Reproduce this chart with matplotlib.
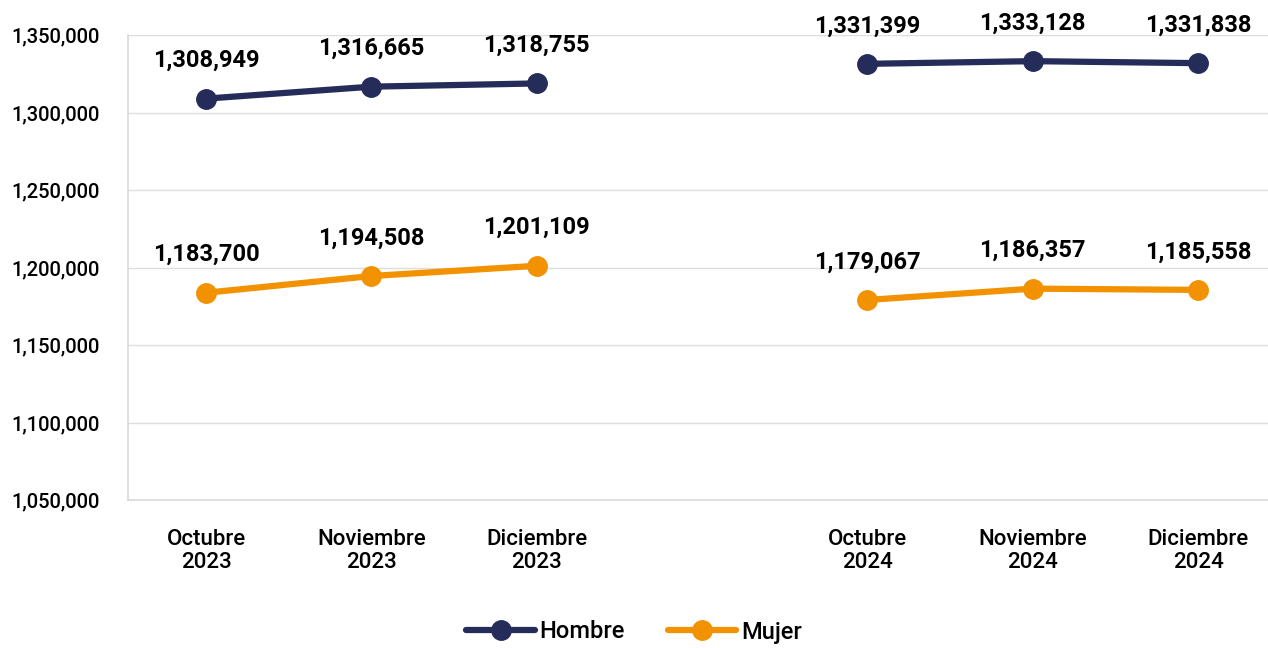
import matplotlib.pyplot as plt
from matplotlib.ticker import FuncFormatter

plt.rcParams['font.family'] = ['Roboto', 'DejaVu Sans']

categorias = ['Octubre\n2023', 'Noviembre\n2023', 'Diciembre\n2023', '',
              'Octubre\n2024', 'Noviembre\n2024', 'Diciembre\n2024']
hombre_2023 = [1308949, 1316665, 1318755]
hombre_2024 = [1331399, 1333128, 1331838]
mujer_2023 = [1183700, 1194508, 1201109]
mujer_2024 = [1179067, 1186357, 1185558]

navy = '#252c59'
orange = '#f39200'

fig = plt.figure(figsize=(12.68, 6.48), dpi=100)
ax = fig.add_axes([128/1268, 1 - 500/648, 1 - 128/1268, 465/648])

x23 = [0, 1, 2]
x24 = [4, 5, 6]

def serie(xs, ys, color, label=None):
    ax.plot(xs, ys, color=color, lw=4.5, marker='o', ms=14, label=label,
            solid_capstyle='round', zorder=3)
    for x, y in zip(xs, ys):
        ax.annotate(f'{y:,}', (x, y), xytext=(0, 38), textcoords='offset pixels',
                    ha='center', va='center', fontsize=17, fontweight='bold')

serie(x23, hombre_2023, navy, 'Hombre')
serie(x24, hombre_2024, navy)
serie(x23, mujer_2023, orange, 'Mujer')
serie(x24, mujer_2024, orange)

ax.set_xlim(-0.472, 6.423)
ax.set_ylim(1050000, 1350000)
ax.set_yticks(range(1050000, 1350001, 50000))
ax.yaxis.set_major_formatter(FuncFormatter(lambda v, p: f'{int(v):,}'))
ax.set_xticks(range(7))
ax.set_xticklabels(categorias, fontsize=16, fontweight='medium', linespacing=1.1)
ax.tick_params(axis='y', labelsize=14.5, length=0, pad=20)
ax.tick_params(axis='x', length=0, pad=21)
for lab in ax.get_yticklabels():
    lab.set_fontweight('medium')

ax.grid(axis='y', color='#dddddd', lw=1)
ax.set_axisbelow(True)
for s in ['top', 'right']:
    ax.spines[s].set_visible(False)
for s in ['left', 'bottom']:
    ax.spines[s].set_color('#d9d9d9')
    ax.spines[s].set_linewidth(1.2)

fig.legend(loc='center', bbox_to_anchor=(0.5, 1 - 632/648), ncol=2, frameon=False,
           handlelength=2.9, columnspacing=1.8, handletextpad=0.2,
           prop={'size': 17, 'weight': 'medium'})

fig.savefig('out.png', dpi=100)
